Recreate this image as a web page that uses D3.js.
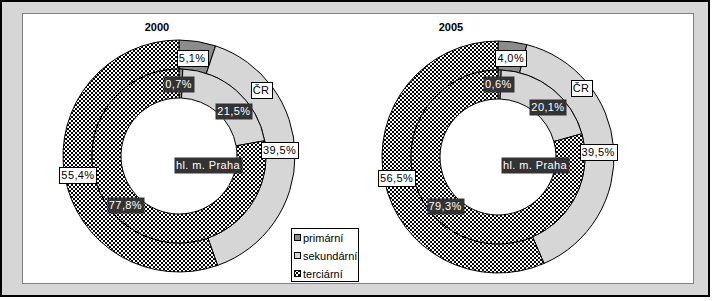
<!DOCTYPE html>
<html>
<head>
<meta charset="utf-8">
<script src="https://cdn.jsdelivr.net/npm/d3@7"></script>
<style>
  body { margin: 0; background: #fff; }
  text { font-family: "Liberation Sans", Arial, sans-serif; }
</style>
</head>
<body>
<div id="chart"></div>
<script>
// data
const years = ['2000', '2005'];
const sectors = ['primární', 'sekundární', 'terciární'];
const seriesNames = ['ČR', 'hl. m. Praha'];
const cr2000 = [5.1, 39.5, 55.4];
const praha2000 = [0.7, 21.5, 77.8];
const cr2005 = [4.0, 39.5, 56.5];
const praha2005 = [0.6, 20.1, 79.3];

// layout
const W = 715, H = 301;
const charts = [
  { title: years[0], cx: 179, cy: 156, titleX: 157, outer: cr2000, inner: praha2000,
    nudgeOuter: [[-3, 2], [-1, -5], [-1, 2]], nudgeInner: [[-2, 0], [7, 10], [-7, -7]],
    crPos: [82, -66], prahaPos: [29, 9] },
  { title: years[1], cx: 498, cy: 157, titleX: 451, outer: cr2005, inner: praha2005,
    nudgeOuter: [[0, 2], [-1, 3], [-2, 0]], nudgeInner: [[-1, -1], [5, 7], [-9, -9]],
    crPos: [83, -69], prahaPos: [37, 8] }
];
const rHole = 58, rMid = 87, rOut = 116;

const svg = d3.select('#chart').append('svg')
  .attr('width', W).attr('height', H);

const defs = svg.append('defs');
const pat = defs.append('pattern')
  .attr('id', 'checker').attr('patternUnits', 'userSpaceOnUse')
  .attr('width', 4).attr('height', 4);
pat.append('rect').attr('width', 4).attr('height', 4).attr('fill', '#fff');
pat.append('rect').attr('width', 2).attr('height', 2).attr('fill', '#000');
pat.append('rect').attr('x', 2).attr('y', 2).attr('width', 2).attr('height', 2).attr('fill', '#000');

const fill = d3.scaleOrdinal().domain(sectors).range(['#8c8c8c', '#d6d6d6', 'url(#checker)']);

// frame
svg.append('rect').attr('x', 1).attr('y', 1).attr('width', 708).attr('height', 295)
  .attr('fill', '#d6d6d6').attr('stroke', '#000').attr('stroke-width', 2);
svg.append('rect').attr('x', 22.5).attr('y', 13.5).attr('width', 671).attr('height', 270)
  .attr('fill', '#fff').attr('stroke', '#808080').attr('stroke-width', 1);

const pie = d3.pie().sort(null).value(d => d.v);

function label(g, x, y, str, dark) {
  const t = g.append('text').attr('x', x).attr('y', y + 4)
    .attr('text-anchor', 'middle').attr('font-size', 11)
    .attr('letter-spacing', 0.4)
    .attr('fill', dark ? '#fff' : '#000').text(str);
  const w = t.node().getComputedTextLength() + 4;
  g.insert('rect', () => t.node())
    .attr('x', Math.round(x - w / 2) + 0.5).attr('y', Math.round(y - 8) + 0.5)
    .attr('width', Math.round(w)).attr('height', 16)
    .attr('fill', dark ? '#333' : '#fff')
    .attr('stroke', dark ? 'none' : '#000');
}

const fmt = v => d3.format('.1f')(v).replace('.', ',') + '%';

charts.forEach(c => {
  const g = svg.append('g').attr('transform', `translate(${c.cx},${c.cy})`);
  const rings = [
    { vals: c.outer, r0: rMid, r1: rOut, nudge: c.nudgeOuter, dark: false },
    { vals: c.inner, r0: rHole, r1: rMid, nudge: c.nudgeInner, dark: true }
  ];
  rings.forEach(ring => {
    const arc = d3.arc().innerRadius(ring.r0).outerRadius(ring.r1);
    const arcs = pie(ring.vals.map((v, i) => ({ v, s: sectors[i] })));
    g.append('g').selectAll('path').data(arcs).join('path')
      .attr('d', arc)
      .attr('fill', d => fill(d.data.s))
      .attr('stroke', '#000').attr('stroke-width', 1);
    ring.labels = arcs.map((d, i) => {
      const [x, y] = arc.centroid(d);
      return [x + ring.nudge[i][0], y + ring.nudge[i][1], fmt(d.data.v)];
    });
  });
  const lg = g.append('g');
  rings.forEach(ring => ring.labels.forEach(l => label(lg, l[0], l[1], l[2], ring.dark)));
  label(lg, c.crPos[0], c.crPos[1], seriesNames[0], false);
  label(lg, c.prahaPos[0], c.prahaPos[1], seriesNames[1], true);

  svg.append('text').attr('x', c.titleX).attr('y', 31)
    .attr('text-anchor', 'middle').attr('font-size', 11).attr('font-weight', 'bold')
    .text(c.title);
});

// legend
const leg = svg.append('g').attr('transform', 'translate(291,228)');
leg.append('rect').attr('x', 0.5).attr('y', 0.5).attr('width', 67).attr('height', 53)
  .attr('fill', '#fff').attr('stroke', '#000');
const li = leg.selectAll('g.item').data(sectors).join('g')
  .attr('class', 'item')
  .attr('transform', (d, i) => `translate(3,${10 + i * 18})`);
li.append('rect').attr('x', 0.5).attr('y', -3.5).attr('width', 6).attr('height', 6)
  .attr('fill', d => fill(d)).attr('stroke', '#000');
li.append('text').attr('x', 9).attr('y', 4).attr('font-size', 11).text(d => d);
</script>
</body>
</html>
